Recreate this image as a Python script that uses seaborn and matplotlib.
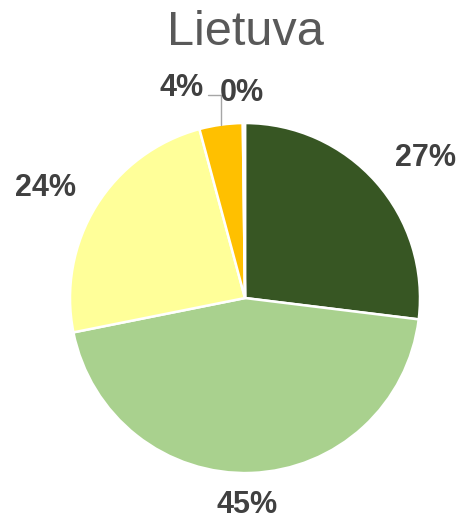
import matplotlib
matplotlib.use('Agg')
import matplotlib.pyplot as plt
import seaborn as sns

# Data
title = 'Lietuva'
shares = [27, 45, 24, 4, 0.2]
labels = ['27%', '45%', '24%', '4%', '0%']
colors = ['#375623', '#A9D18E', '#FFFF99', '#FFC000', '#C5E0B4']

# label placement (pie units, radius = 1)
label_pos = [(1.03, 0.80), (0.01, -1.18), (-1.14, 0.63), (-0.36, 1.20), (-0.02, 1.17)]

sns.set_theme(style='white')
plt.rcParams['font.family'] = ['Liberation Sans', 'DejaVu Sans']

fig = plt.figure(figsize=(4.62, 5.21), dpi=100)
ax = fig.add_axes([0, 0, 1, 1])

wedges, _ = ax.pie(shares, colors=sns.color_palette(colors), startangle=90,
                   counterclock=False, radius=1,
                   wedgeprops=dict(edgecolor='white', linewidth=1.8))

for txt, (x, y) in zip(labels, label_pos):
    ax.text(x, y, txt, ha='center', va='center', fontsize=22,
            fontweight='bold', color='#404040')

# leader line for the 0% label
ax.plot([-0.21, -0.14, -0.14], [1.16, 1.16, 0.99], color='#A6A6A6', lw=1)

ax.text(0, 1.52, title, ha='center', va='center', fontsize=35, color='#595959')

ax.set_aspect('auto')
ax.set_xlim(-1.4, 1.24)
ax.set_ylim(-1.274, 1.703)
ax.axis('off')

fig.savefig('out.png', dpi=100)
